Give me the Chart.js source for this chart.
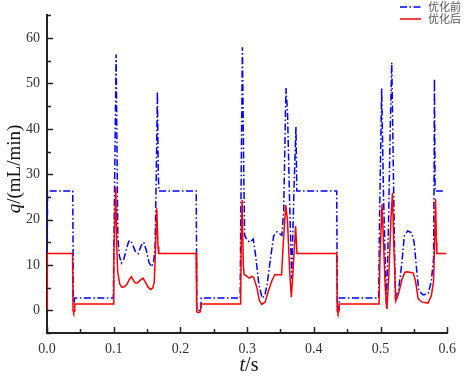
<!DOCTYPE html>
<html>
<head>
<meta charset="utf-8">
<script src="https://cdn.jsdelivr.net/npm/chart.js@4.4.1/dist/chart.umd.min.js"></script>
<style>
  body { margin: 0; background: #fff; }
</style>
</head>
<body>
<canvas id="myChart" width="464" height="376"></canvas>
<script>
// series names (legend)
const seriesNames = ["优化前", "优化后"];

// 优化前 (before) : time in s, flow in mL/min
const beforeT = [
  0, 0.0008, 0.0386, 0.0395, 0.0408, 0.0412, 0.0994, 0.1004, 0.1036, 0.1062,
  0.1085, 0.1115, 0.115, 0.119, 0.1225, 0.1255, 0.129, 0.133, 0.1368, 0.141,
  0.145, 0.149, 0.153, 0.157, 0.16, 0.162, 0.1638, 0.1655, 0.1668, 0.1678,
  0.2237, 0.2246, 0.2305, 0.2311, 0.2895, 0.2905, 0.2929, 0.295, 0.2963, 0.3003,
  0.3043, 0.3092, 0.3127, 0.3176, 0.3225, 0.3264, 0.33, 0.335, 0.3398, 0.3447,
  0.3521, 0.3548, 0.3582, 0.3605, 0.3635, 0.3668, 0.3705, 0.3732, 0.3745,
  0.4343, 0.4352, 0.4375, 0.4381, 0.4972, 0.4985, 0.5017, 0.5045, 0.5088, 0.5118,
  0.5145, 0.5168, 0.5195, 0.5222, 0.5268, 0.5317, 0.5356, 0.5406, 0.5465, 0.5504,
  0.5539, 0.5573, 0.5637, 0.5711, 0.5761, 0.5795, 0.5803, 0.5808, 0.5818, 0.595
];
const beforeQ = [
  0, 26.3, 26.3, 1.8, 1.8, 2.7, 2.7, 16, 56.4, 16,
  12, 10.4, 11.2, 13.5, 15.2, 15.4, 14.2, 12.8, 12.5, 14.2,
  15, 13.2, 10.5, 9.6, 10.8, 14, 30, 48.2, 30, 26.3,
  26.3, 0, 0, 2.7, 2.7, 20, 58, 30, 16.5, 15.4,
  15, 15.7, 12.1, 5.7, 2.7, 3.2, 5.7, 11.4, 16.4, 17.3,
  16.5, 22, 49, 44, 25, 7, 28, 40.4, 26.3,
  26.3, 0, 0, 2.7, 2.7, 20, 48.9, 25, 0.7, 18,
  40, 54.6, 28, 3, 4.3, 10, 16.4, 17.5, 17.1, 15,
  9.3, 4.3, 3.4, 3.6, 6.4, 11.4, 30, 51, 26.3, 26.3
];

// 优化后 (after)
const afterT = [
  0, 0.0005, 0.0383, 0.039, 0.04, 0.0411, 0.0417, 0.0993, 0.1002, 0.1032,
  0.1046, 0.106, 0.109, 0.112, 0.116, 0.12, 0.1235, 0.1265, 0.1295, 0.1325,
  0.1355, 0.1395, 0.144, 0.1475, 0.1515, 0.1555, 0.1585, 0.1608, 0.1626, 0.1645,
  0.1664, 0.1675, 0.2235, 0.2244, 0.227, 0.23, 0.231, 0.2903, 0.2912, 0.2925,
  0.2943, 0.2955, 0.299, 0.303, 0.307, 0.3097, 0.3146, 0.3185, 0.322, 0.327,
  0.332, 0.3368, 0.3417, 0.3516, 0.354, 0.3579, 0.3604, 0.3638, 0.3663, 0.3688,
  0.3727, 0.3747, 0.4343, 0.4351, 0.4362, 0.4375, 0.4381, 0.4978, 0.4992, 0.5022,
  0.5045, 0.507, 0.5096, 0.5125, 0.5155, 0.5179, 0.52, 0.5229, 0.5268, 0.53,
  0.5327, 0.5366, 0.54, 0.5491, 0.5525, 0.5564, 0.5623, 0.5711, 0.5761, 0.5795,
  0.581, 0.5824, 0.5838, 0.5844, 0.5985
];
const afterQ = [
  0, 12.5, 12.5, 0, -0.5, -0.1, 1.4, 1.4, 12, 27.2,
  14, 8.5, 5.8, 5.1, 5.2, 5.8, 6.8, 7.4, 6.6, 6,
  6, 6.6, 7.1, 6.2, 5.1, 4.6, 4.9, 6.2, 13, 22.5,
  14, 12.5, 12.5, -0.3, -0.5, -0.3, 1.4, 1.4, 15, 24.3,
  10, 7.9, 7.6, 7.1, 7.5, 7.3, 5, 2.1, 1.3, 1.8,
  4.3, 6.4, 7.9, 7.8, 14.3, 23.2, 20, 8.6, 2.9, 8.6,
  18.6, 12.5, 12.5, 0, -0.6, -0.2, 1.4, 1.4, 12, 23.4,
  15, 5, 0.3, 8, 20, 25.9, 14, 2.1, 3.6, 5.5,
  7.1, 8.4, 8.5, 8.2, 6.4, 2.5, 1.8, 1.6, 3.2, 6.4,
  15, 24.6, 15, 12.5, 12.5
];

// tick labels
const xTickLabels = ["0.0", "0.1", "0.2", "0.3", "0.4", "0.5", "0.6"];
const yTickLabels = ["0", "10", "20", "30", "40", "50", "60"];

const toPoints = (ts, qs) => ts.map((t, i) => ({ x: t, y: qs[i] }));

const serif = "'Liberation Serif', 'DejaVu Serif', serif";

// inward tick marks, axis titles and legend
const decorPlugin = {
  id: "decor",
  afterDraw(chart) {
    const ctx = chart.ctx;
    const xs = chart.scales.x;
    const ys = chart.scales.y;
    const area = chart.chartArea;

    ctx.save();
    ctx.strokeStyle = "#222";
    ctx.lineWidth = 1.5;
    xs.ticks.forEach((tk, i) => {
      const px = Math.round(xs.getPixelForValue(tk.value)) + 0.5;
      const len = i % 2 === 0 ? 6 : 4;
      ctx.beginPath();
      ctx.moveTo(px, area.bottom);
      ctx.lineTo(px, area.bottom - len);
      ctx.stroke();
    });
    ys.ticks.forEach((tk, i) => {
      const py = Math.round(ys.getPixelForValue(tk.value)) + 0.5;
      const len = (i - 1) % 2 === 0 ? 6 : 4;
      ctx.beginPath();
      ctx.moveTo(area.left, py);
      ctx.lineTo(area.left + len, py);
      ctx.stroke();
    });

    // axis titles
    ctx.fillStyle = "#111";
    ctx.textBaseline = "middle";
    const drawTitle = (ital, rest, cx, cy, rot, size) => {
      ctx.save();
      ctx.translate(cx, cy);
      ctx.rotate(rot);
      ctx.font = "italic " + size + "px " + serif;
      const w1 = ctx.measureText(ital).width;
      ctx.font = size + "px " + serif;
      const w2 = ctx.measureText(rest).width;
      const x0 = -(w1 + w2) / 2;
      ctx.textAlign = "left";
      ctx.font = "italic " + size + "px " + serif;
      ctx.fillText(ital, x0, 0);
      ctx.font = size + "px " + serif;
      ctx.fillText(rest, x0 + w1, 0);
      ctx.restore();
    };
    drawTitle("q", "/(mL/min)", 15, 169, -Math.PI / 2, 19);
    drawTitle("t", "/s", 249, 366, 0, 20);

    // legend
    const items = [chart.data.datasets[1], chart.data.datasets[0]];
    items.forEach((ds, i) => {
      const y = 7 + i * 12;
      ctx.strokeStyle = ds.borderColor;
      ctx.lineWidth = 1.5;
      ctx.setLineDash(ds.borderDash || []);
      ctx.beginPath();
      ctx.moveTo(400, y);
      ctx.lineTo(421, y);
      ctx.stroke();
      ctx.setLineDash([]);
      ctx.fillStyle = "#555";
      ctx.font = "11px 'Noto Sans CJK SC'";
      ctx.textAlign = "left";
      ctx.fillText(ds.label, 428, y);
    });
    ctx.restore();
  },
};

const ctx = document.getElementById("myChart").getContext("2d");

new Chart(ctx, {
  type: "line",
  data: {
    datasets: [
      {
        label: seriesNames[1],
        data: toPoints(afterT, afterQ),
        borderColor: "#ff0000",
        borderWidth: 1.5,
        pointRadius: 0,
        tension: 0,
      },
      {
        label: seriesNames[0],
        data: toPoints(beforeT, beforeQ),
        borderColor: "#0000ff",
        borderWidth: 1.5,
        borderDash: [7, 2.5, 1.5, 2.5],
        pointRadius: 0,
        tension: 0,
      },
    ],
  },
  options: {
    responsive: false,
    animation: false,
    devicePixelRatio: 1,
    layout: { padding: { left: 0, right: 11, top: 7, bottom: 0 } },
    plugins: {
      legend: { display: false },
      tooltip: { enabled: false },
    },
    scales: {
      x: {
        type: "linear",
        min: 0,
        max: 0.6,
        afterFit: (s) => { s.height = 43; },
        grid: { display: false, drawTicks: false },
        border: { display: true, color: "#222", width: 2 },
        ticks: {
          stepSize: 0.05,
          padding: 8,
          maxRotation: 0,
          autoSkip: false,
          color: "#333",
          font: { family: serif, size: 14 },
          callback: (v, i) => (i % 2 === 0 ? xTickLabels[i / 2] : ""),
        },
      },
      y: {
        min: -5,
        max: 65,
        afterFit: (s) => { s.width = 47; },
        grid: { display: false, drawTicks: false },
        border: { display: true, color: "#222", width: 2 },
        ticks: {
          stepSize: 5,
          padding: 7,
          autoSkip: false,
          color: "#333",
          font: { family: serif, size: 14 },
          callback: (v, i) => ((i - 1) % 2 === 0 ? yTickLabels[(i - 1) / 2] : ""),
        },
      },
    },
  },
  plugins: [decorPlugin],
});
</script>
</body>
</html>
